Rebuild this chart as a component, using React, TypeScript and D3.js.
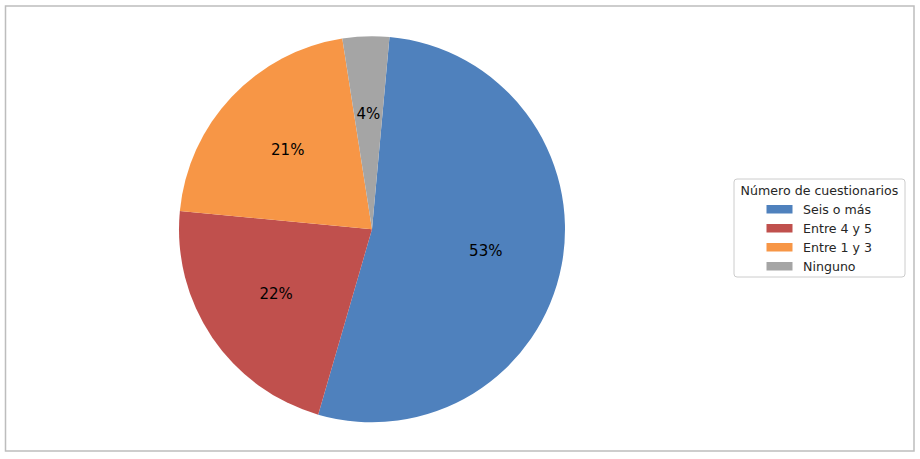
import React from "react";
import * as d3 from "d3";

const categories = ["Seis o más", "Entre 4 y 5", "Entre 1 y 3", "Ninguno"];
const values = [53.0, 22.0, 21.0, 3.9];
const colors = ["#4f81bd", "#c0504d", "#f79646", "#a5a5a5"];
const legendTitle = "Número de cuestionarios";

export default function App() {
  const W = 920;
  const H = 459;
  const cx = 372;
  const cy = 229.3;
  const r = 193;
  const start = (5.2 * Math.PI) / 180;
  const total = d3.sum(values);
  const pie = d3
    .pie<number>()
    .sort(null)
    .value((d) => d)
    .startAngle(start)
    .endAngle(start + 2 * Math.PI);
  const arcs = pie(values);
  const arcGen = d3.arc<d3.PieArcDatum<number>>().innerRadius(0).outerRadius(r);
  const labelArc = d3
    .arc<d3.PieArcDatum<number>>()
    .innerRadius(r * 0.6)
    .outerRadius(r * 0.6);
  const font = "'DejaVu Sans', sans-serif";
  const lx = 734;
  const ly = 179;
  return (
    <svg
      width={W}
      height={H}
      style={{ position: "absolute", left: 0, top: 0, background: "#fff" }}
    >
      <rect x={5.5} y={6} width={908.5} height={445} fill="#fff" stroke="#bdbdbd" strokeWidth={1.5} />
      <g transform={`translate(${cx},${cy})`}>
        {arcs.map((a, i) => (
          <path key={i} d={arcGen(a) || ""} fill={colors[i]} />
        ))}
        {arcs.map((a, i) => {
          const [x, y] = labelArc.centroid(a);
          return (
            <text
              key={"l" + i}
              x={x}
              y={y}
              textAnchor="middle"
              dominantBaseline="central"
              fontFamily={font}
              fontSize={15}
              fill="#000"
            >
              {Math.round((values[i] / total) * 100) + "%"}
            </text>
          );
        })}
      </g>
      <g>
        <rect x={lx} y={ly} width={171} height={98} rx={3} fill="#fff" stroke="#cccccc" strokeWidth={1} />
        <text x={lx + 85.5} y={ly + 15.5} textAnchor="middle" fontFamily={font} fontSize={12.6} fill="#262626">
          {legendTitle}
        </text>
        {categories.map((c, i) => {
          const yc = ly + 30 + i * 19;
          return (
            <g key={c}>
              <rect x={766.5} y={yc - 4} width={26} height={8.5} fill={colors[i]} />
              <text x={803} y={yc} dominantBaseline="central" fontFamily={font} fontSize={12.6} fill="#262626">
                {c}
              </text>
            </g>
          );
        })}
      </g>
    </svg>
  );
}
